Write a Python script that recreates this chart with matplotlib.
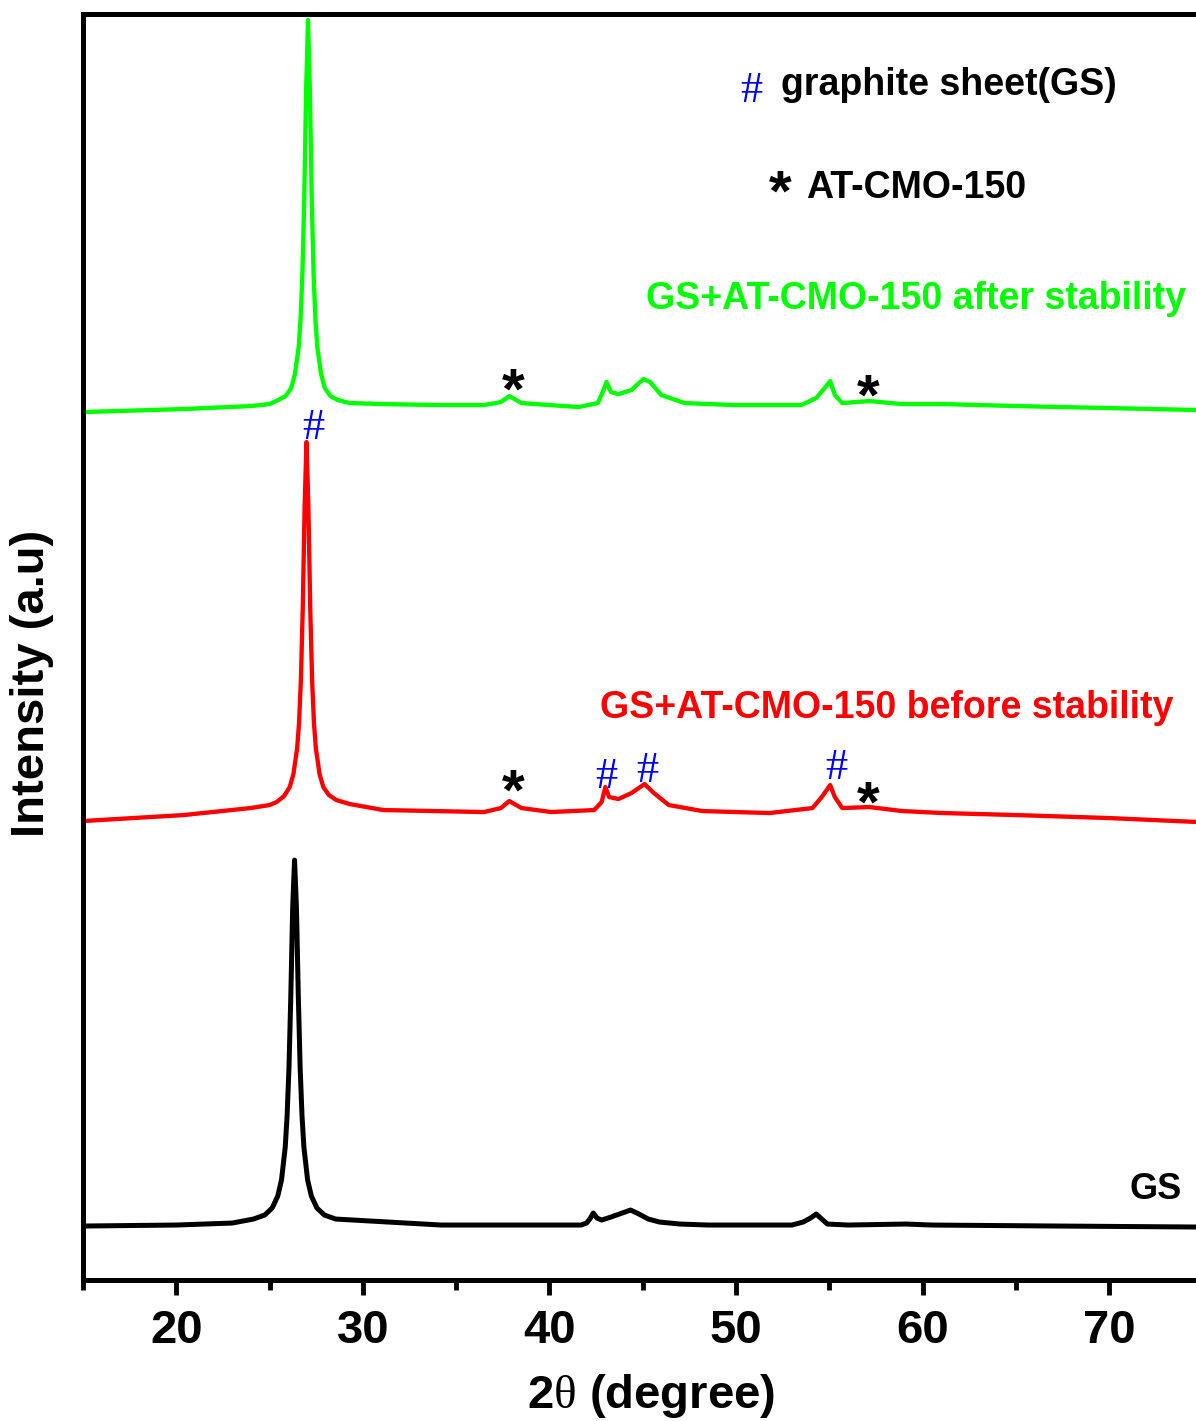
import matplotlib
matplotlib.use("Agg")
import matplotlib.pyplot as plt
from matplotlib.ticker import MultipleLocator

plt.rcParams['font.family'] = ['Liberation Sans', 'DejaVu Sans']
plt.rcParams['font.weight'] = 'bold'
plt.rcParams['mathtext.fontset'] = 'custom'
plt.rcParams['mathtext.rm'] = 'Liberation Serif:weight=normal'

# ---- data (2theta, stacked intensity in a.u.) ----
gs_x = [15, 20, 23.0, 24.14, 24.74, 25.14, 25.44, 25.64, 25.84, 25.94, 26.04, 26.14, 26.24, 26.34,
        26.44, 26.54, 26.64, 26.74, 26.84, 27.04, 27.24, 27.54, 27.94, 28.54,
        34.2, 41.7, 42.0, 42.2, 42.35, 42.55, 42.8, 43.3, 43.9, 44.35, 44.8, 45.3, 45.9,
        47.0, 48.5, 53.0, 53.6, 54.0, 54.3, 54.6, 54.9, 56.0, 59.1, 60.5, 67.3, 74.8]
gs_y = [54, 55, 57, 61, 65, 72, 84, 100, 133, 164, 212, 285, 373, 420,
        373, 285, 212, 164, 133, 100, 84, 72, 65, 61,
        55, 55, 57, 62, 67, 62, 60, 63, 67, 70, 66, 61, 58,
        56, 55, 55, 58, 62, 66, 61, 56, 55, 56, 55, 54, 53]

before_x = [15, 20.4, 23.98, 25.0, 25.38, 25.78, 26.08, 26.28, 26.48, 26.58, 26.68, 26.78, 26.88,
            26.98, 27.08, 27.18, 27.28, 27.38, 27.48, 27.68, 27.88, 28.18, 28.58, 29.3,
            31.1, 36.5, 37.4, 37.85, 38.5, 40.1, 42.4, 42.8, 43.0, 43.2,
            43.7, 44.4, 45.1, 45.6, 46.4, 48.2, 51.8, 54.1, 54.6, 55.05, 55.3, 55.7,
            57.15, 58.9, 61.1, 65, 70, 74.8]
before_y = [459, 465, 472, 475, 478, 484, 493, 506, 532, 557, 600, 672, 774,
            838, 774, 672, 600, 557, 532, 506, 493, 485, 480, 476,
            470, 468, 472, 479, 472, 468, 470, 478, 493, 483,
            481, 487, 496, 487, 475, 469, 467, 472, 483, 495, 483, 472,
            473, 469, 467, 465, 462, 458]

after_x = [15, 20.4, 24, 25.0, 25.46, 25.86, 26.16, 26.36, 26.56, 26.66, 26.76, 26.86, 26.96,
           27.06, 27.16, 27.26, 27.36, 27.46, 27.56, 27.76, 27.96, 28.26, 28.66, 29.3,
           31.1, 34, 36.5, 37.4, 37.85, 38.5, 40, 41.56, 42.6, 42.9, 43.06, 43.3,
           43.7, 44.4, 44.8, 45.05, 45.4, 46.0, 47.25, 49.9, 53.5, 54.3, 54.8, 55.05, 55.3, 55.7,
           57.15, 58.9, 61.1, 65, 70, 74.8]
after_y = [868, 871, 874, 876, 880, 884, 892, 906, 933, 960, 1006, 1082, 1190,
           1260, 1190, 1082, 1006, 960, 933, 906, 892, 884, 880, 877,
           876, 875, 875, 878, 884, 877, 875, 873, 877, 890, 898, 888,
           886, 890, 897, 901, 898, 885, 877, 875, 875, 882, 893, 899, 885, 877,
           879, 876, 876, 874, 872, 870]

xticks_major = [20, 30, 40, 50, 60, 70]

# peak markers
star_x = [38.06, 57.1, 38.06, 57.1]
star_y = [886, 880, 485, 473]
hash_x = [27.37, 43.06, 45.27, 55.38]
hash_y = [852, 503, 509, 512]

fig = plt.figure(figsize=(11.96, 14.21), dpi=100)
ax = fig.add_axes([0.0694, 0.0992, 0.9406, 0.8909])

ax.plot(gs_x, gs_y, color='black', lw=3.6, solid_joinstyle='round')
ax.plot(before_x, before_y, color='#ff0000', lw=3.1, solid_joinstyle='round')
ax.plot(after_x, after_y, color='#00ff00', lw=3.1, solid_joinstyle='round')

ax.set_xlim(15, 75.3)
ax.set_ylim(0, 1266)

ax.set_xticks(xticks_major)
ax.xaxis.set_minor_locator(MultipleLocator(5))
ax.set_yticks([])
ax.tick_params(axis='x', which='major', direction='out', length=11, width=3.5,
               labelsize=34, pad=10)
ax.tick_params(axis='x', which='minor', direction='out', length=7, width=3.5)
for lab in ax.get_xticklabels():
    lab.set_fontweight('bold')

for side in ['left', 'top', 'bottom']:
    ax.spines[side].set_linewidth(3.6)
ax.spines['right'].set_visible(False)

ax.set_xlabel(r'2$\mathrm{\theta}$ (degree)', fontsize=34, fontweight='bold')
ax.xaxis.set_label_coords(0.505, -0.0727)
ax.set_ylabel('Intensity (a.u)', fontsize=34, fontweight='bold')
ax.yaxis.set_label_coords(-0.026, 0.4716)

for sx, sy in zip(star_x, star_y):
    ax.text(sx, sy, '*', fontsize=42, fontweight='bold', color='black',
            ha='center', va='center')
for hx, hy in zip(hash_x, hash_y):
    ax.text(hx, hy, '#', fontsize=32, color='#0000ff', family='Liberation Serif',
            ha='center', va='center', fontweight='normal')

ax.text(50.8, 1189, '#', fontsize=32, color='#0000ff', family='Liberation Serif',
        ha='center', va='center', fontweight='normal')
ax.text(52.4, 1195, 'graphite sheet(GS)', fontsize=27, fontweight='bold',
        ha='left', va='center')
ax.text(52.37, 1085, '*', fontsize=42, fontweight='bold', ha='center', va='center')
ax.text(53.75, 1092, 'AT-CMO-150', fontsize=27, fontweight='bold', ha='left', va='center')
ax.text(45.2, 981, 'GS+AT-CMO-150 after stability', fontsize=27, fontweight='bold',
        color='#00ff00', ha='left', va='center')
ax.text(42.69, 572, 'GS+AT-CMO-150 before stability', fontsize=27, fontweight='bold',
        color='#ff0000', ha='left', va='center')
ax.text(71.1, 91, 'GS', fontsize=26, fontweight='bold', ha='left', va='center')

fig.savefig('out.png', dpi=100)
